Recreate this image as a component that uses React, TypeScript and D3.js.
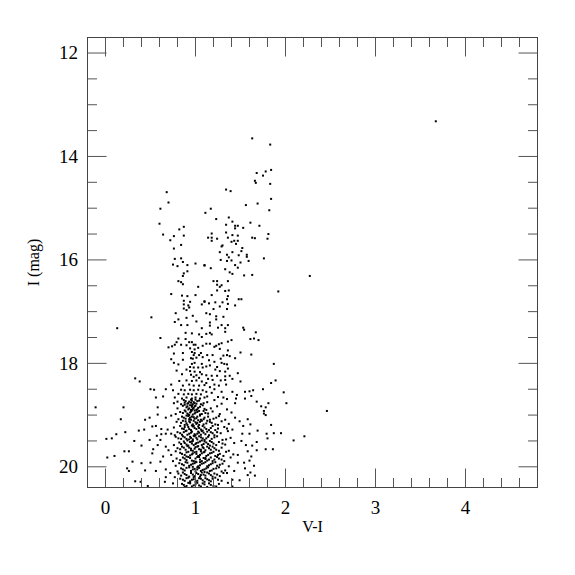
import React from "react";
import * as d3 from "d3";

// Axis settings
const xDomain: [number, number] = [-0.2, 4.8];
const yDomain: [number, number] = [11.7, 20.4];
const xMajorTicks = [0, 1, 2, 3, 4];
const yMajorTicks = [12, 14, 16, 18, 20];
const xLabel = "V-I";
const yLabel = "I (mag)";

// Individually read stars: [V-I, I]
const stars: [number, number][] = [
  [3.67, 13.32], [2.46, 18.92], [2.27, 16.31],
  [0.68, 14.69], [0.7, 14.89], [0.61, 15.01],
  [1.63, 13.65], [1.83, 13.77], [1.68, 14.32], [1.78, 14.29], [1.84, 14.26], [1.75, 14.37],
  [1.66, 14.47], [1.67, 14.51], [1.83, 14.53], [1.34, 14.64], [1.39, 14.67], [1.84, 14.82],
  [1.69, 14.91], [1.56, 14.94], [1.17, 15.01], [1.82, 15.04], [1.11, 15.09], [1.23, 15.21], [1.37, 15.18],
  [0.6, 15.3], [0.87, 15.36], [0.82, 15.41], [0.64, 15.51], [0.76, 15.54], [0.87, 15.53], [0.72, 15.62],
  [0.84, 15.71], [0.76, 15.78], [0.77, 15.98], [0.84, 15.97], [0.86, 16.04], [0.75, 16.09], [0.8, 16.12],
  [0.91, 16.1], [1.0, 16.07], [1.1, 16.11], [0.91, 16.22], [0.87, 16.26], [0.86, 16.31], [0.81, 16.41],
  [0.84, 16.43], [0.86, 16.47], [1.03, 16.52], [0.73, 16.66], [0.85, 16.69], [0.91, 16.7], [1.0, 16.68],
  [0.87, 16.79], [0.94, 16.81], [1.1, 16.81], [0.87, 16.86], [0.92, 16.88], [1.07, 16.86], [0.87, 16.94],
  [0.93, 16.92], [0.9, 16.97],
  [1.41, 15.26], [1.61, 15.28], [1.34, 15.32], [1.44, 15.34], [1.47, 15.34], [1.71, 15.34], [1.44, 15.39],
  [1.53, 15.38], [1.34, 15.47], [1.18, 15.49], [1.41, 15.52], [1.47, 15.53], [1.81, 15.5], [1.14, 15.57],
  [1.18, 15.57], [1.24, 15.59], [1.36, 15.57], [1.63, 15.57], [1.66, 15.58], [1.8, 15.59], [1.18, 15.63],
  [1.4, 15.65], [1.43, 15.63], [1.47, 15.63], [1.45, 15.69], [1.3, 15.72], [1.29, 15.74], [1.52, 15.77],
  [1.41, 15.85], [1.27, 15.85], [1.51, 15.83], [1.35, 15.9], [1.48, 15.91], [1.57, 15.9], [1.57, 15.94],
  [1.37, 15.95], [1.76, 15.97], [1.28, 16.0], [1.35, 16.02], [1.4, 16.01], [1.59, 16.02], [1.5, 16.05],
  [1.44, 16.1], [1.47, 16.15], [1.1, 16.1], [1.17, 16.16], [1.33, 16.18], [1.38, 16.24], [1.41, 16.27],
  [1.54, 16.3], [1.63, 16.29], [1.2, 16.41], [1.24, 16.41], [1.36, 16.41], [1.24, 16.48], [1.29, 16.49],
  [1.27, 16.52], [1.24, 16.59], [1.33, 16.6], [1.37, 16.59], [1.92, 16.61], [1.18, 16.68], [1.36, 16.7],
  [1.35, 16.76], [1.48, 16.76], [1.51, 16.76], [1.1, 16.8], [1.15, 16.84], [1.22, 16.82], [1.3, 16.82],
  [1.36, 16.85], [1.27, 16.9], [1.44, 16.88], [1.2, 16.95], [1.35, 16.95],
  [0.78, 17.03], [0.51, 17.11], [0.97, 17.08], [0.9, 17.12], [0.81, 17.15], [0.77, 17.2], [1.01, 17.19],
  [0.84, 17.26], [0.91, 17.26], [0.13, 17.32], [1.07, 17.32], [0.89, 17.41], [0.96, 17.42], [1.04, 17.44],
  [0.81, 17.52], [0.89, 17.53], [0.61, 17.51], [1.07, 17.49], [0.79, 17.59], [0.93, 17.59], [0.96, 17.59],
  [0.77, 17.64], [0.84, 17.64], [0.7, 17.69], [0.74, 17.67], [0.9, 17.65], [0.98, 17.64], [1.0, 17.64],
  [1.08, 17.66], [0.94, 17.71], [0.99, 17.73], [1.03, 17.7], [0.76, 17.81], [0.86, 17.8], [0.96, 17.78],
  [0.99, 17.8], [1.06, 17.8], [0.98, 17.84], [1.04, 17.84], [0.73, 17.92], [0.86, 17.93], [0.95, 17.9],
  [0.97, 17.91], [1.01, 17.89], [1.08, 17.88], [0.76, 17.99], [0.81, 18.02], [0.96, 18.01], [0.99, 17.99],
  [1.07, 18.01], [0.94, 18.07], [0.98, 18.08], [1.03, 18.08], [1.08, 18.08], [0.79, 18.14], [0.9, 18.12],
  [0.94, 18.15], [0.99, 18.16], [1.05, 18.17], [0.85, 18.21], [0.95, 18.22], [1.01, 18.23], [1.07, 18.21],
  [0.98, 18.26], [1.04, 18.28], [0.33, 18.29], [0.38, 18.35], [0.82, 18.34], [0.9, 18.33], [0.96, 18.34],
  [1.01, 18.33], [1.07, 18.35], [0.73, 18.41], [0.86, 18.43], [0.93, 18.41], [0.98, 18.43], [1.04, 18.43],
  [1.1, 18.42], [0.5, 18.5], [0.54, 18.51], [0.67, 18.5], [0.75, 18.52], [0.84, 18.51], [0.88, 18.52],
  [0.94, 18.51], [0.98, 18.52], [1.03, 18.51], [1.08, 18.52], [0.81, 18.59], [0.87, 18.6], [0.92, 18.59],
  [0.96, 18.6], [1.01, 18.59], [1.06, 18.6], [0.56, 18.66], [0.64, 18.64], [0.77, 18.66], [0.85, 18.68],
  [0.9, 18.66], [0.96, 18.68], [1.0, 18.66], [1.05, 18.68], [1.1, 18.66],
  [1.12, 17.03], [1.16, 17.05], [1.23, 17.09], [1.31, 17.1], [1.23, 17.15], [1.16, 17.21], [1.16, 17.27],
  [1.29, 17.26], [1.36, 17.26], [1.25, 17.31], [1.33, 17.32], [1.53, 17.31], [1.54, 17.35], [1.67, 17.4],
  [1.33, 17.39], [1.12, 17.43], [1.16, 17.41], [1.18, 17.44], [1.61, 17.53], [1.65, 17.52], [1.7, 17.55],
  [1.4, 17.55], [1.36, 17.58], [1.29, 17.61], [1.26, 17.63], [1.23, 17.66], [1.12, 17.62], [1.16, 17.62],
  [1.21, 17.68], [1.27, 17.72], [1.36, 17.75], [1.5, 17.79], [1.62, 17.83], [1.13, 17.84], [1.19, 17.84],
  [1.31, 17.85], [1.35, 17.84], [1.38, 17.86], [1.28, 17.91], [1.44, 17.9], [1.15, 17.94], [1.21, 17.97],
  [1.29, 17.99], [1.32, 18.01], [1.35, 18.02], [1.87, 18.01], [1.12, 18.06], [1.16, 18.04], [1.24, 18.07],
  [1.36, 18.1], [1.22, 18.12], [1.27, 18.15], [1.33, 18.16], [1.47, 18.19], [1.12, 18.23], [1.18, 18.24],
  [1.24, 18.24], [1.33, 18.25], [1.38, 18.24], [1.14, 18.3], [1.19, 18.32], [1.28, 18.33], [1.33, 18.32],
  [1.41, 18.3], [1.5, 18.35], [1.89, 18.33], [1.84, 18.38], [1.12, 18.38], [1.21, 18.41], [1.26, 18.43],
  [1.34, 18.41], [1.16, 18.46], [1.21, 18.5], [1.75, 18.5], [1.41, 18.55], [1.55, 18.55], [1.6, 18.54],
  [1.64, 18.52], [1.98, 18.56], [1.12, 18.55], [1.18, 18.57], [1.29, 18.55], [1.46, 18.61], [1.62, 18.63],
  [1.13, 18.64], [1.25, 18.65], [1.31, 18.66], [1.35, 18.69], [1.45, 18.68], [1.55, 18.68],
  [-0.11, 18.85], [0.2, 18.85], [0.58, 18.85], [0.76, 18.77], [0.8, 18.74], [0.17, 19.08], [0.44, 19.09],
  [0.49, 19.05], [0.58, 18.99], [0.67, 19.05], [0.73, 19.01], [0.37, 19.3], [0.43, 19.28], [0.52, 19.22],
  [0.56, 19.21], [0.62, 19.27], [0.69, 19.28], [0.22, 19.33], [0.12, 19.37], [0.57, 19.4], [0.62, 19.37],
  [0.67, 19.36], [0.73, 19.36], [0.01, 19.46], [0.07, 19.45], [0.32, 19.5], [0.49, 19.48], [0.61, 19.48],
  [0.4, 19.59], [0.58, 19.58], [0.67, 19.61], [0.53, 19.66], [0.21, 19.7], [0.26, 19.7], [0.7, 19.68],
  [0.52, 19.74], [0.1, 19.79], [0.02, 19.82], [0.64, 19.8], [0.73, 19.77], [0.3, 19.9], [0.4, 19.93],
  [0.5, 19.92], [0.61, 19.9], [0.75, 19.89], [0.24, 20.03], [0.26, 20.08], [0.44, 20.07], [0.56, 20.08],
  [0.67, 20.05], [0.72, 20.12], [0.33, 20.28], [0.39, 20.29], [0.47, 20.37], [0.66, 20.29], [0.75, 20.32],
  [0.67, 20.2], [0.77, 20.2],
  [1.44, 18.77], [1.68, 18.74], [1.73, 18.83], [1.81, 18.77], [1.78, 18.85], [2.01, 18.77], [1.76, 18.92],
  [1.76, 18.97], [1.78, 19.0], [1.49, 19.12], [1.58, 19.08], [1.61, 19.18], [1.53, 19.21], [1.69, 19.3],
  [1.84, 19.19], [1.52, 19.36], [1.6, 19.36], [1.79, 19.36], [1.87, 19.35], [1.95, 19.35], [2.21, 19.41],
  [2.09, 19.49], [1.8, 19.45], [1.68, 19.52], [1.51, 19.5], [1.56, 19.58], [1.63, 19.59], [1.78, 19.66],
  [1.86, 19.66], [1.68, 19.68], [1.58, 19.7], [1.47, 19.77], [1.62, 19.8], [1.47, 19.92], [1.54, 19.92],
  [1.6, 19.88], [1.65, 19.98], [1.43, 20.08], [1.55, 20.03], [1.61, 20.11], [1.35, 20.12], [1.41, 20.25],
  [1.49, 20.26], [1.58, 20.16], [1.66, 20.17], [1.36, 20.31], [1.41, 20.38],
];

// Dense main-sequence core (approximate reading of the crowded region): [V-I, I]
const coreStars: [number, number][] = [
  [0.87, 18.71], [0.93, 18.74], [0.96, 18.72], [0.99, 18.77], [1.02, 18.73], [1.06, 18.79], [0.91, 18.78],
  [0.95, 18.76], [1.13, 18.75], [1.21, 18.71], [1.29, 18.78], [0.84, 18.79], [1.0, 18.7],
  [0.86, 18.82], [0.9, 18.85], [0.94, 18.81], [0.97, 18.88], [0.99, 18.83], [1.03, 18.86], [1.08, 18.81],
  [0.92, 18.89], [0.96, 18.84], [1.01, 18.9], [1.17, 18.87], [1.24, 18.83], [1.35, 18.89], [0.8, 18.87], [1.12, 18.9],
  [0.83, 18.94], [0.88, 18.91], [0.91, 18.97], [0.95, 18.93], [0.97, 18.99], [1.0, 18.95], [1.04, 18.92],
  [1.07, 18.98], [0.93, 19.0], [1.11, 18.96], [1.19, 18.93], [1.27, 18.98], [1.4, 18.95], [0.78, 18.98], [0.99, 18.91],
  [0.85, 19.03], [0.89, 19.07], [0.92, 19.02], [0.95, 19.09], [0.98, 19.04], [1.01, 19.06], [1.05, 19.01],
  [1.09, 19.08], [1.14, 19.03], [1.2, 19.07], [1.26, 19.02], [1.33, 19.09], [0.81, 19.08], [0.94, 19.05],
  [1.03, 19.1], [1.44, 19.05],
  [0.79, 19.13], [0.86, 19.11], [0.9, 19.16], [0.93, 19.12], [0.97, 19.18], [1.0, 19.14], [1.04, 19.19],
  [1.07, 19.11], [1.12, 19.16], [1.16, 19.13], [1.22, 19.18], [1.29, 19.12], [1.37, 19.17], [0.96, 19.2],
  [1.02, 19.15], [0.88, 19.19],
  [0.76, 19.24], [0.83, 19.21], [0.87, 19.27], [0.92, 19.23], [0.95, 19.29], [0.99, 19.25], [1.03, 19.22],
  [1.06, 19.28], [1.1, 19.24], [1.15, 19.29], [1.19, 19.21], [1.25, 19.26], [1.32, 19.23], [1.41, 19.28],
  [0.98, 19.21], [1.08, 19.3], [0.9, 19.3],
  [0.8, 19.33], [0.85, 19.38], [0.89, 19.31], [0.93, 19.36], [0.96, 19.32], [1.0, 19.39], [1.04, 19.34],
  [1.07, 19.31], [1.11, 19.37], [1.17, 19.33], [1.21, 19.39], [1.28, 19.35], [1.36, 19.31], [0.98, 19.4],
  [1.13, 19.32], [0.77, 19.39], [1.02, 19.36],
  [0.78, 19.42], [0.84, 19.46], [0.88, 19.43], [0.91, 19.49], [0.95, 19.44], [0.99, 19.41], [1.02, 19.47],
  [1.06, 19.43], [1.1, 19.48], [1.14, 19.42], [1.18, 19.46], [1.24, 19.41], [1.3, 19.48], [1.39, 19.44],
  [0.97, 19.5], [1.08, 19.45], [0.93, 19.47],
  [0.82, 19.53], [0.87, 19.51], [0.9, 19.57], [0.94, 19.52], [0.98, 19.58], [1.01, 19.54], [1.05, 19.51],
  [1.09, 19.56], [1.12, 19.53], [1.16, 19.59], [1.2, 19.55], [1.26, 19.52], [1.33, 19.57], [1.43, 19.54],
  [0.76, 19.58], [1.03, 19.6], [0.96, 19.55],
  [0.8, 19.64], [0.85, 19.61], [0.89, 19.67], [0.93, 19.63], [0.97, 19.69], [1.0, 19.62], [1.04, 19.66],
  [1.08, 19.62], [1.11, 19.68], [1.15, 19.64], [1.19, 19.61], [1.23, 19.67], [1.29, 19.63], [1.37, 19.69],
  [0.95, 19.65], [1.06, 19.7], [0.78, 19.7],
  [0.83, 19.73], [0.88, 19.77], [0.92, 19.71], [0.96, 19.76], [0.99, 19.72], [1.03, 19.79], [1.07, 19.74],
  [1.1, 19.71], [1.14, 19.77], [1.18, 19.73], [1.22, 19.79], [1.27, 19.75], [1.34, 19.71], [1.42, 19.76],
  [1.01, 19.75], [0.9, 19.8],
  [0.79, 19.84], [0.86, 19.82], [0.9, 19.87], [0.94, 19.83], [0.98, 19.89], [1.02, 19.81], [1.05, 19.86],
  [1.09, 19.83], [1.13, 19.88], [1.17, 19.82], [1.21, 19.86], [1.26, 19.84], [1.32, 19.89], [1.39, 19.82],
  [1.0, 19.9], [1.11, 19.85],
  [0.82, 19.93], [0.87, 19.97], [0.91, 19.92], [0.95, 19.96], [0.99, 19.93], [1.03, 19.99], [1.07, 19.94],
  [1.11, 19.91], [1.15, 19.97], [1.19, 19.93], [1.24, 19.98], [1.3, 19.94], [1.37, 19.99], [0.97, 20.0],
  [1.05, 19.91], [0.78, 19.98],
  [0.84, 20.03], [0.88, 20.07], [0.93, 20.01], [0.97, 20.05], [1.0, 20.09], [1.04, 20.02], [1.08, 20.06],
  [1.12, 20.03], [1.16, 20.08], [1.2, 20.04], [1.26, 20.01], [1.33, 20.07], [0.8, 20.09], [1.02, 20.05], [1.1, 20.1],
  [0.81, 20.13], [0.86, 20.11], [0.9, 20.16], [0.95, 20.12], [0.99, 20.18], [1.03, 20.14], [1.07, 20.11],
  [1.11, 20.17], [1.15, 20.13], [1.19, 20.19], [1.24, 20.15], [1.31, 20.12], [0.98, 20.2], [1.06, 20.16],
  [0.83, 20.23], [0.88, 20.27], [0.92, 20.21], [0.96, 20.25], [1.0, 20.29], [1.04, 20.22], [1.08, 20.26],
  [1.13, 20.24], [1.17, 20.28], [1.22, 20.21], [1.29, 20.27], [0.94, 20.3], [1.11, 20.22],
  [0.85, 20.33], [0.9, 20.37], [0.94, 20.32], [0.98, 20.36], [1.02, 20.31], [1.06, 20.38], [1.1, 20.34],
  [1.15, 20.32], [1.2, 20.37], [1.26, 20.33], [0.88, 20.39],
  [0.89, 18.73], [0.92, 18.77], [0.95, 18.7], [0.98, 18.75], [1.01, 18.78], [1.04, 18.72], [0.88, 18.76],
  [0.97, 18.79], [1.09, 18.77],
  [0.88, 18.8], [0.91, 18.83], [0.93, 18.87], [0.96, 18.81], [0.98, 18.86], [1.0, 18.82], [1.02, 18.89],
  [1.05, 18.84], [1.1, 18.88], [0.95, 18.9],
  [0.86, 18.96], [0.89, 18.93], [0.92, 18.99], [0.94, 18.95], [0.96, 18.91], [0.99, 18.97], [1.02, 18.94],
  [1.05, 18.99], [1.09, 18.92], [1.14, 18.97],
  [0.87, 19.05], [0.9, 19.01], [0.93, 19.08], [0.96, 19.03], [0.99, 19.07], [1.02, 19.03], [1.06, 19.09],
  [1.1, 19.05], [1.16, 19.09], [1.23, 19.05],
  [0.84, 19.15], [0.89, 19.12], [0.91, 19.19], [0.94, 19.14], [0.98, 19.11], [1.01, 19.17], [1.05, 19.13],
  [1.09, 19.18], [1.13, 19.11], [1.18, 19.15], [1.25, 19.19],
  [0.85, 19.26], [0.88, 19.23], [0.93, 19.27], [0.97, 19.22], [1.01, 19.27], [1.04, 19.25], [1.08, 19.21],
  [1.12, 19.27], [1.17, 19.25], [1.22, 19.29], [1.35, 19.26],
  [0.83, 19.35], [0.87, 19.33], [0.91, 19.38], [0.95, 19.34], [0.99, 19.37], [1.03, 19.32], [1.06, 19.38],
  [1.09, 19.34], [1.15, 19.39], [1.19, 19.35], [1.24, 19.33],
  [0.81, 19.45], [0.86, 19.41], [0.9, 19.46], [0.94, 19.42], [0.97, 19.47], [1.01, 19.44], [1.04, 19.41],
  [1.07, 19.49], [1.12, 19.45], [1.16, 19.5], [1.21, 19.43], [1.34, 19.47],
  [0.84, 19.56], [0.88, 19.54], [0.92, 19.59], [0.96, 19.51], [1.0, 19.56], [1.03, 19.53], [1.07, 19.58],
  [1.1, 19.51], [1.14, 19.56], [1.18, 19.52], [1.23, 19.58], [1.3, 19.55],
  [0.83, 19.66], [0.87, 19.63], [0.91, 19.6], [0.95, 19.68], [0.99, 19.65], [1.02, 19.61], [1.06, 19.67],
  [1.09, 19.64], [1.13, 19.61], [1.17, 19.67], [1.21, 19.64], [1.26, 19.69],
  [0.85, 19.75], [0.9, 19.72], [0.94, 19.78], [0.97, 19.74], [1.01, 19.71], [1.05, 19.77], [1.09, 19.72],
  [1.12, 19.79], [1.16, 19.74], [1.2, 19.71], [1.25, 19.77], [1.31, 19.79],
  [0.83, 19.87], [0.88, 19.84], [0.92, 19.81], [0.96, 19.88], [1.0, 19.84], [1.04, 19.81], [1.07, 19.89],
  [1.11, 19.83], [1.15, 19.86], [1.19, 19.89], [1.24, 19.81], [1.29, 19.86],
  [0.85, 19.95], [0.89, 19.91], [0.93, 19.98], [0.97, 19.94], [1.01, 19.91], [1.05, 19.97], [1.09, 19.93],
  [1.13, 19.99], [1.17, 19.95], [1.22, 19.91], [1.27, 19.96],
  [0.86, 20.05], [0.9, 20.02], [0.95, 20.08], [0.99, 20.04], [1.02, 20.01], [1.06, 20.08], [1.1, 20.05],
  [1.14, 20.01], [1.18, 20.07], [1.23, 20.03], [1.29, 20.09],
  [0.84, 20.17], [0.88, 20.14], [0.93, 20.19], [0.97, 20.15], [1.01, 20.12], [1.05, 20.19], [1.09, 20.15],
  [1.13, 20.11], [1.17, 20.16], [1.21, 20.13], [1.27, 20.18],
  [0.86, 20.25], [0.9, 20.22], [0.94, 20.28], [0.98, 20.24], [1.02, 20.27], [1.06, 20.23], [1.1, 20.29],
  [1.15, 20.26], [1.19, 20.23], [1.25, 20.25],
  [0.87, 20.35], [0.92, 20.31], [0.96, 20.38], [1.0, 20.34], [1.04, 20.36], [1.08, 20.32], [1.13, 20.39],
  [1.17, 20.35], [1.23, 20.38],
];

const LEFT = 87.5;
const TOP = 37.5;
const SIZE = 450;

export default function App() {
  const x = d3.scaleLinear().domain(xDomain).range([LEFT, LEFT + SIZE]);
  const y = d3.scaleLinear().domain(yDomain).range([TOP, TOP + SIZE]);

  const allStars: [number, number][] = stars.concat(coreStars);

  const xMinor = x.ticks(25).filter((v) => Math.abs(v - Math.round(v)) > 1e-6);
  const yMinor = d3.range(12.5, 20.41, 0.5).filter((v) => Math.abs(v % 2) > 1e-6);

  const tickColor = "#555";
  const MAJ = 19;
  const MIN = 9.5;
  const fontFamily = "'Liberation Serif', 'Times New Roman', serif";

  return (
    <svg width={575} height={575} style={{ position: "absolute", left: 0, top: 0, background: "#fff" }}>
      <g>
        {allStars.map(([c, m], i) => (
          <rect key={i} x={x(c) - 1} y={y(m) - 1} width={2} height={2} fill="#000" />
        ))}
      </g>
      <g stroke={tickColor} strokeWidth={1}>
        {xMajorTicks.map((t) => (
          <g key={"xM" + t}>
            <line x1={x(t)} x2={x(t)} y1={TOP + SIZE} y2={TOP + SIZE - MAJ} />
            <line x1={x(t)} x2={x(t)} y1={TOP} y2={TOP + MAJ} />
          </g>
        ))}
        {xMinor.map((t) => (
          <g key={"xm" + t}>
            <line x1={x(t)} x2={x(t)} y1={TOP + SIZE} y2={TOP + SIZE - MIN} />
            <line x1={x(t)} x2={x(t)} y1={TOP} y2={TOP + MIN} />
          </g>
        ))}
        {yMajorTicks.map((t) => (
          <g key={"yM" + t}>
            <line x1={LEFT} x2={LEFT + MAJ} y1={y(t)} y2={y(t)} />
            <line x1={LEFT + SIZE} x2={LEFT + SIZE - MAJ} y1={y(t)} y2={y(t)} />
          </g>
        ))}
        {yMinor.map((t) => (
          <g key={"ym" + t}>
            <line x1={LEFT} x2={LEFT + MIN} y1={y(t)} y2={y(t)} />
            <line x1={LEFT + SIZE} x2={LEFT + SIZE - MIN} y1={y(t)} y2={y(t)} />
          </g>
        ))}
        <rect x={LEFT} y={TOP} width={SIZE} height={SIZE} fill="none" stroke="#444" />
      </g>
      <g fontFamily={fontFamily} fill="#000">
        {xMajorTicks.map((t) => (
          <text key={"xl" + t} x={x(t)} y={513.5} fontSize={19} textAnchor="middle">
            {t}
          </text>
        ))}
        {yMajorTicks.map((t) => (
          <text key={"yl" + t} x={78} y={y(t)} dy="0.34em" fontSize={19} textAnchor="end">
            {t}
          </text>
        ))}
        <text x={LEFT + SIZE / 2} y={531.5} fontSize={16} textAnchor="middle">
          {xLabel}
        </text>
        <text transform={`translate(39, ${TOP + SIZE / 2}) rotate(-90)`} fontSize={16} textAnchor="middle">
          {yLabel}
        </text>
      </g>
    </svg>
  );
}
